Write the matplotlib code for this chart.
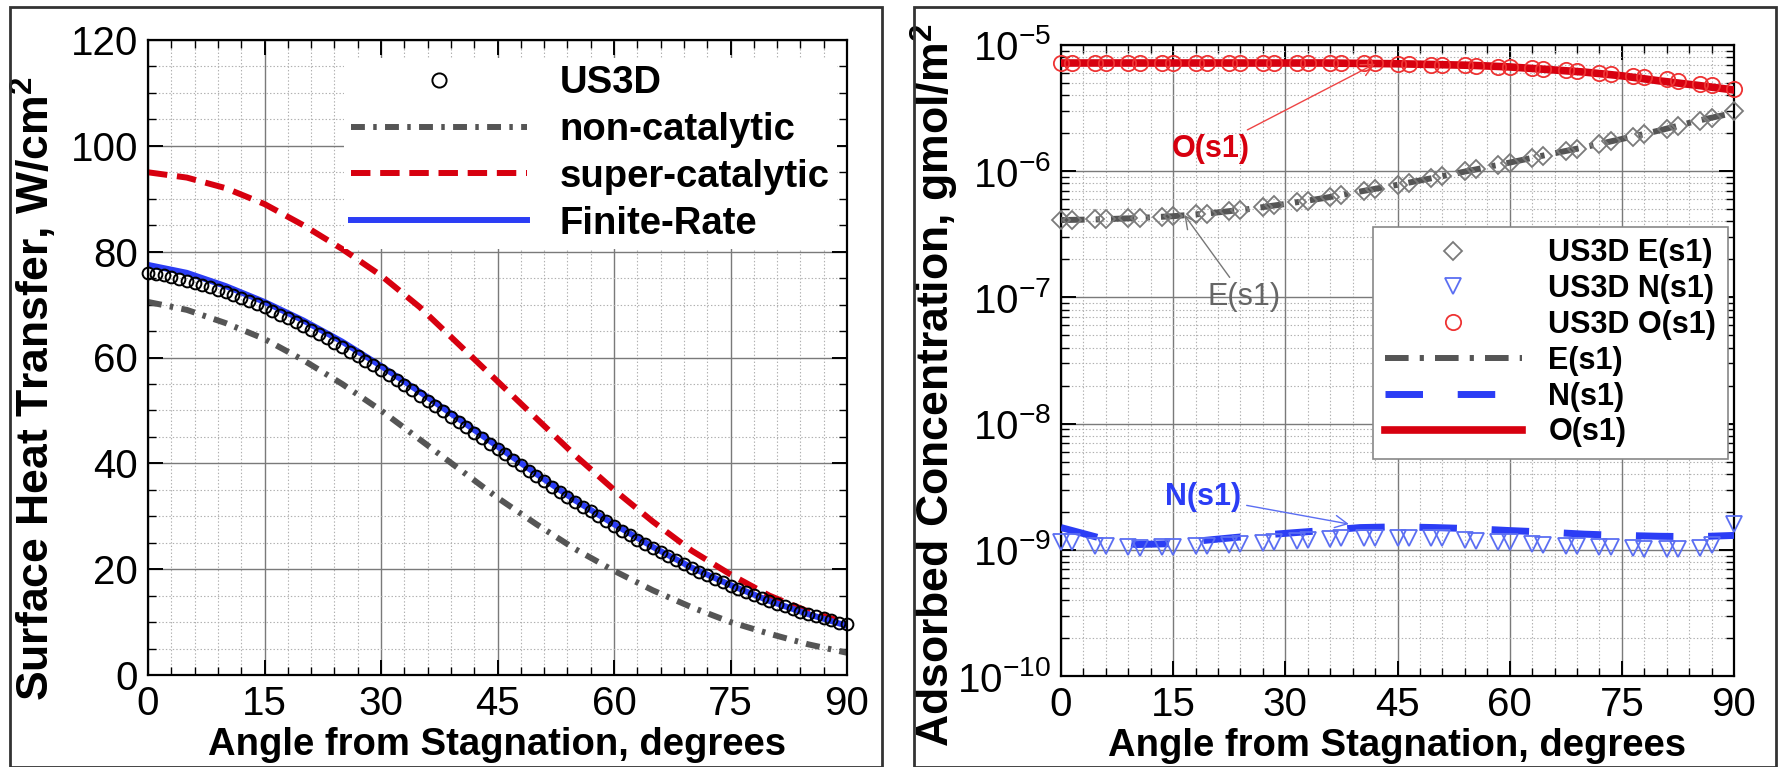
import matplotlib
matplotlib.use("Agg")
import matplotlib.pyplot as plt
from matplotlib.patches import Rectangle
from matplotlib.ticker import MultipleLocator, LogLocator, NullFormatter

plt.rcParams["font.family"] = "Liberation Sans"
plt.rcParams["mathtext.fontset"] = "custom"
plt.rcParams["mathtext.rm"] = "Liberation Sans"
plt.rcParams["mathtext.bf"] = "Liberation Sans:bold"
plt.rcParams["mathtext.default"] = "regular"
plt.rcParams["lines.scale_dashes"] = False

# ---------------------------------------------------------------
# Surface heat transfer along the body (W/cm^2)
# ---------------------------------------------------------------
angle_line = [0, 5, 10, 15, 20, 25, 30, 35, 40, 45,
              50, 55, 60, 65, 70, 75, 80, 85, 90]
q_noncat = [70.5, 69.0, 66.5, 63.5, 59.5, 55.0, 50.0, 44.5, 39.0, 33.5,
            28.5, 23.8, 19.7, 16.0, 12.8, 10.0, 7.8, 5.8, 4.2]
q_supercat = [95.0, 94.0, 92.0, 89.0, 85.0, 80.5, 75.5, 69.5, 62.5, 55.5,
              48.5, 41.5, 35.0, 29.0, 23.5, 19.0, 15.0, 12.0, 9.8]
q_finite = [77.5, 76.0, 73.5, 70.5, 67.0, 63.0, 58.4, 53.5, 48.4, 43.2,
            38.0, 33.0, 28.5, 24.2, 20.3, 17.0, 14.0, 11.5, 9.3]

# US3D surface points, one per degree
angle_us3d = list(range(0, 91))
q_us3d = [76.0, 75.8, 75.5, 75.2, 74.9, 74.5, 74.1, 73.7, 73.3, 72.8,
          72.3, 71.8, 71.3, 70.7, 70.1, 69.5, 68.8, 68.1, 67.4, 66.7,
          66.0, 65.2, 64.4, 63.6, 62.8, 62.0, 61.1, 60.3, 59.4, 58.5,
          57.6, 56.7, 55.7, 54.8, 53.8, 52.8, 51.8, 50.8, 49.8, 48.8,
          47.8, 46.8, 45.8, 44.7, 43.7, 42.7, 41.7, 40.6, 39.6, 38.6,
          37.6, 36.6, 35.6, 34.6, 33.7, 32.7, 31.8, 30.9, 30.0, 29.1,
          28.2, 27.3, 26.5, 25.6, 24.8, 24.0, 23.2, 22.4, 21.7, 20.9,
          20.2, 19.5, 18.9, 18.2, 17.5, 16.9, 16.3, 15.7, 15.1, 14.5,
          14.0, 13.5, 13.0, 12.5, 12.0, 11.6, 11.1, 10.7, 10.3, 9.9,
          9.6]

# ---------------------------------------------------------------
# Adsorbed surface concentrations (gmol/m^2)
# ---------------------------------------------------------------
conc_E = [4.10e-7, 4.15e-7, 4.25e-7, 4.40e-7, 4.65e-7, 5.00e-7, 5.50e-7,
          6.10e-7, 6.90e-7, 7.80e-7, 8.90e-7, 1.02e-6, 1.17e-6, 1.35e-6,
          1.55e-6, 1.80e-6, 2.10e-6, 2.50e-6, 2.90e-6]
conc_N = [1.50e-9, 1.25e-9, 1.10e-9, 1.12e-9, 1.20e-9, 1.28e-9, 1.35e-9,
          1.42e-9, 1.50e-9, 1.52e-9, 1.50e-9, 1.47e-9, 1.42e-9, 1.38e-9,
          1.33e-9, 1.30e-9, 1.28e-9, 1.27e-9, 1.30e-9]
conc_O = [7.2e-6, 7.2e-6, 7.2e-6, 7.2e-6, 7.2e-6, 7.2e-6, 7.2e-6, 7.2e-6,
          7.15e-6, 7.1e-6, 7.0e-6, 6.9e-6, 6.7e-6, 6.4e-6, 6.1e-6, 5.7e-6,
          5.2e-6, 4.8e-6, 4.4e-6]

angle_surf = [0, 1.5, 4.5, 6, 9, 10.5, 13.5, 15, 18, 19.5, 22.5, 24, 27,
              28.5, 31.5, 33, 36, 37.5, 40.5, 42, 45, 46.5, 49.5, 51, 54,
              55.5, 58.5, 60, 63, 64.5, 67.5, 69, 72, 73.5, 76.5, 78, 81,
              82.5, 85.5, 87, 90]
us3d_E = [4.10e-7, 4.10e-7, 4.15e-7, 4.17e-7, 4.22e-7, 4.27e-7, 4.35e-7,
          4.40e-7, 4.55e-7, 4.62e-7, 4.82e-7, 4.93e-7, 5.20e-7, 5.35e-7,
          5.65e-7, 5.83e-7, 6.25e-7, 6.45e-7, 6.95e-7, 7.20e-7, 7.80e-7,
          8.10e-7, 8.80e-7, 9.10e-7, 9.95e-7, 1.04e-6, 1.13e-6, 1.17e-6,
          1.27e-6, 1.33e-6, 1.45e-6, 1.51e-6, 1.64e-6, 1.72e-6, 1.88e-6,
          1.96e-6, 2.15e-6, 2.27e-6, 2.52e-6, 2.66e-6, 3.00e-6]
us3d_N = [1.15e-9, 1.15e-9, 1.08e-9, 1.07e-9, 1.05e-9, 1.04e-9, 1.05e-9,
          1.05e-9, 1.07e-9, 1.08e-9, 1.10e-9, 1.12e-9, 1.13e-9, 1.15e-9,
          1.18e-9, 1.20e-9, 1.22e-9, 1.23e-9, 1.25e-9, 1.25e-9, 1.25e-9,
          1.25e-9, 1.24e-9, 1.23e-9, 1.20e-9, 1.18e-9, 1.16e-9, 1.15e-9,
          1.12e-9, 1.10e-9, 1.08e-9, 1.07e-9, 1.05e-9, 1.05e-9, 1.03e-9,
          1.02e-9, 1.02e-9, 1.02e-9, 1.03e-9, 1.10e-9, 1.60e-9]
us3d_O = [7.2e-6, 7.2e-6, 7.2e-6, 7.2e-6, 7.2e-6, 7.2e-6, 7.2e-6, 7.2e-6,
          7.2e-6, 7.2e-6, 7.2e-6, 7.2e-6, 7.2e-6, 7.2e-6, 7.2e-6, 7.2e-6,
          7.2e-6, 7.2e-6, 7.2e-6, 7.15e-6, 7.1e-6, 7.1e-6, 7.0e-6, 7.0e-6,
          6.9e-6, 6.85e-6, 6.75e-6, 6.7e-6, 6.55e-6, 6.45e-6, 6.3e-6,
          6.2e-6, 6.0e-6, 5.9e-6, 5.7e-6, 5.6e-6, 5.35e-6, 5.2e-6, 4.95e-6,
          4.8e-6, 4.5e-6]

GRAY = "#555555"
RED = "#d7000f"
BLUE = "#2b3df5"
LIGHT_BLUE = "#5b6ef2"
MARK_GRAY = "#7a7a7a"

TICK_SIZE = 29
LABEL_SIZE = 27.5
YLABEL_SIZE = 32


def style_axes(ax):
    """Tecplot-like frame: inward ticks on all sides, solid major and dotted minor grid."""
    for sp in ax.spines.values():
        sp.set_linewidth(1.6)
    ax.tick_params(which="both", direction="in", top=True, right=True,
                   labelsize=TICK_SIZE, pad=7)
    ax.tick_params(which="major", length=11, width=1.4)
    ax.tick_params(which="minor", length=6, width=1.0)
    ax.grid(which="major", color="#7a7a7a", linewidth=1.0, linestyle="-")
    ax.grid(which="minor", color="#b0b0b0", linewidth=0.8, linestyle=(0, (1, 1.5)))
    ax.set_axisbelow(True)


fig = plt.figure(figsize=(17.78, 7.67), dpi=100)

# panel frames
fig.patches.append(Rectangle((10 / 1778, 0), 872 / 1778, 760 / 767,
                             transform=fig.transFigure, fill=False,
                             edgecolor="#333333", linewidth=2.0))
fig.patches.append(Rectangle((914 / 1778, 0), 862 / 1778, 760 / 767,
                             transform=fig.transFigure, fill=False,
                             edgecolor="#333333", linewidth=2.0))

# ---------------- left: surface heat transfer ----------------
ax1 = fig.add_axes([148 / 1778, 92 / 767, 699 / 1778, 635 / 767])
style_axes(ax1)

ax1.plot(angle_line, q_noncat, color=GRAY, linewidth=4.3,
         dashes=(10, 6, 2.5, 6), label="non-catalytic")
ax1.plot(angle_line, q_supercat, color=RED, linewidth=4.3,
         dashes=(14, 7), label="super-catalytic")
ax1.plot(angle_line, q_finite, color=BLUE, linewidth=4.3, label="Finite-Rate")
ax1.plot(angle_us3d, q_us3d, linestyle="none", marker="o", markersize=8.5,
         markerfacecolor="none", markeredgecolor="black", markeredgewidth=1.4,
         label="US3D", clip_on=False, zorder=5)

ax1.set_xlim(0, 90)
ax1.set_ylim(0, 120)
ax1.xaxis.set_major_locator(MultipleLocator(15))
ax1.xaxis.set_minor_locator(MultipleLocator(3))
ax1.yaxis.set_major_locator(MultipleLocator(20))
ax1.yaxis.set_minor_locator(MultipleLocator(5))
ax1.set_xlabel("Angle from Stagnation, degrees", fontsize=LABEL_SIZE,
               fontweight="bold", labelpad=3)
ax1.set_ylabel(r"Surface Heat Transfer, W/cm$^\mathbf{2}$", fontsize=YLABEL_SIZE,
               fontweight="bold")
ax1.yaxis.set_label_coords(-0.128, 0.45)

h, l = ax1.get_legend_handles_labels()
order = [3, 0, 1, 2]
leg1 = ax1.legend([h[i] for i in order], [l[i] for i in order],
                  loc="upper left", bbox_to_anchor=(0.28, 0.972),
                  borderaxespad=0, frameon=True, fancybox=False,
                  facecolor="white", edgecolor="none", framealpha=1,
                  prop={"weight": "bold", "size": LABEL_SIZE},
                  handlelength=4.6, handletextpad=0.85, labelspacing=0.28,
                  borderpad=0.2, numpoints=1, markerscale=1.2)

# ---------------- right: adsorbed concentrations ----------------
ax2 = fig.add_axes([1061 / 1778, 91 / 767, 673 / 1778, 631 / 767])
ax2.set_yscale("log")
style_axes(ax2)

ax2.plot(angle_surf, us3d_E, linestyle="none", marker="D", markersize=9.5,
         markerfacecolor="none", markeredgecolor=MARK_GRAY, markeredgewidth=1.3,
         label="US3D E(s1)", clip_on=False, zorder=4)
ax2.plot(angle_surf, us3d_N, linestyle="none", marker="v", markersize=11.5,
         markerfacecolor="none", markeredgecolor=LIGHT_BLUE, markeredgewidth=1.3,
         label="US3D N(s1)", clip_on=False, zorder=4)
ax2.plot(angle_surf, us3d_O, linestyle="none", marker="o", markersize=11,
         markerfacecolor="none", markeredgecolor="#ee3333", markeredgewidth=1.3,
         label="US3D O(s1)", clip_on=False, zorder=4)
ax2.plot(angle_line, conc_E, color=GRAY, linewidth=4.3,
         dashes=(17, 8, 3, 8), label="E(s1)", zorder=3)
ax2.plot(angle_line, conc_N, color=BLUE, linewidth=5.0,
         dashes=(27, 25), label="N(s1)", zorder=3)
ax2.plot(angle_line, conc_O, color=RED, linewidth=5.5, label="O(s1)", zorder=3)

ax2.set_xlim(0, 90)
ax2.set_ylim(1e-10, 1e-5)
ax2.xaxis.set_major_locator(MultipleLocator(15))
ax2.xaxis.set_minor_locator(MultipleLocator(3))
ax2.yaxis.set_major_locator(LogLocator(base=10, numticks=10))
ax2.yaxis.set_minor_locator(LogLocator(base=10, subs=range(2, 10), numticks=20))
ax2.yaxis.set_minor_formatter(NullFormatter())
ax2.set_xlabel("Angle from Stagnation, degrees", fontsize=LABEL_SIZE,
               fontweight="bold", labelpad=3)
ax2.set_ylabel(r"Adsorbed Concentration, gmol/m$^\mathbf{2}$", fontsize=YLABEL_SIZE,
               fontweight="bold")
ax2.yaxis.set_label_coords(-0.148, 0.46)

ax2.annotate("O(s1)", xy=(42, 7.1e-6), xytext=(20, 1.5e-6), color=RED,
             fontsize=22, fontweight="bold", ha="center", va="center",
             arrowprops=dict(arrowstyle="->", color="#ee4444", lw=1.0,
                             shrinkA=2, shrinkB=0))
ax2.annotate("E(s1)", xy=(16.5, 4.5e-7), xytext=(24.5, 1.0e-7), color="#666666",
             fontsize=22, ha="center", va="center",
             arrowprops=dict(arrowstyle="->", color="#777777", lw=1.0,
                             shrinkA=2, shrinkB=0))
ax2.annotate("N(s1)", xy=(38.5, 1.6e-9), xytext=(19, 2.6e-9), color=BLUE,
             fontsize=22, fontweight="bold", ha="center", va="center",
             arrowprops=dict(arrowstyle="->", color=LIGHT_BLUE, lw=1.0,
                             shrinkA=2, shrinkB=0))

leg2 = ax2.legend(loc="upper right", bbox_to_anchor=(0.991, 0.712),
                  borderaxespad=0, frameon=True, fancybox=False,
                  facecolor="white", edgecolor="#888888", framealpha=1,
                  prop={"weight": "bold", "size": 22},
                  handlelength=4.5, handletextpad=0.86, labelspacing=0.19,
                  borderpad=0.38, numpoints=1)
leg2.get_frame().set_linewidth(1.2)

fig.savefig("out.png", dpi=100)
